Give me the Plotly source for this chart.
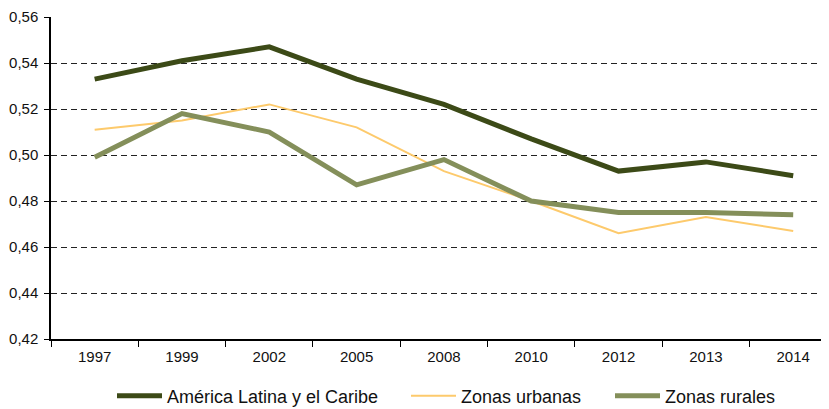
import plotly.graph_objects as go

years = ["1997", "1999", "2002", "2005", "2008", "2010", "2012", "2013", "2014"]
america_latina = [0.533, 0.541, 0.547, 0.533, 0.522, 0.507, 0.493, 0.497, 0.491]
zonas_urbanas = [0.511, 0.515, 0.522, 0.512, 0.493, 0.480, 0.466, 0.473, 0.467]
zonas_rurales = [0.499, 0.518, 0.510, 0.487, 0.498, 0.480, 0.475, 0.475, 0.474]
y_ticks = [0.42, 0.44, 0.46, 0.48, 0.50, 0.52, 0.54, 0.56]
y_tick_labels = ["0,42", "0,44", "0,46", "0,48", "0,50", "0,52", "0,54", "0,56"]

fig = go.Figure()
fig.add_trace(go.Scatter(x=years, y=america_latina, mode="lines", name="América Latina y el Caribe",
                         line=dict(color="#3c4a17", width=5), legend="legend"))
fig.add_trace(go.Scatter(x=years, y=zonas_urbanas, mode="lines", name="Zonas urbanas",
                         line=dict(color="#fdca6c", width=2), legend="legend2"))
fig.add_trace(go.Scatter(x=years, y=zonas_rurales, mode="lines", name="Zonas rurales",
                         line=dict(color="#848f5a", width=5), legend="legend3"))

leg_common = dict(orientation="h", y=-57 / 322, yanchor="middle", xanchor="left",
                  font=dict(size=18, color="#111"), itemwidth=45, bgcolor="rgba(0,0,0,0)")

# page body has an 8px default margin; figure is a bit taller than the window so the
# legend does not shrink the plot
fig.update_layout(
    width=821, height=412,
    margin=dict(l=43, r=0, t=9, b=81),
    plot_bgcolor="white", paper_bgcolor="white",
    font=dict(family="Liberation Sans, Arial, sans-serif", color="#222", size=15),
    showlegend=True,
    legend=dict(x=61 / 778, **leg_common),
    legend2=dict(x=(406 - 51) / 778, **leg_common),
    legend3=dict(x=(610 - 51) / 778, **leg_common),
)
fig.update_xaxes(type="category", range=[-0.5, 8.41], showgrid=False, automargin=False,
                 showline=True, linecolor="black", linewidth=1.5,
                 ticks="outside", tickson="boundaries", ticklen=6, tickcolor="black",
                 ticklabelstandoff=3,
                 tickfont=dict(size=15, color="#111"))
fig.update_yaxes(range=[0.42, 0.56], tickvals=y_ticks, ticktext=y_tick_labels, automargin=False,
                 showgrid=True, gridcolor="#222", griddash="6px,4px", gridwidth=1,
                 showline=True, linecolor="black", linewidth=1.5,
                 ticks="outside", ticklen=5, tickcolor="black", zeroline=False,
                 ticklabelstandoff=3,
                 tickfont=dict(size=15, color="#111"))

fig.write_html("out.html")
